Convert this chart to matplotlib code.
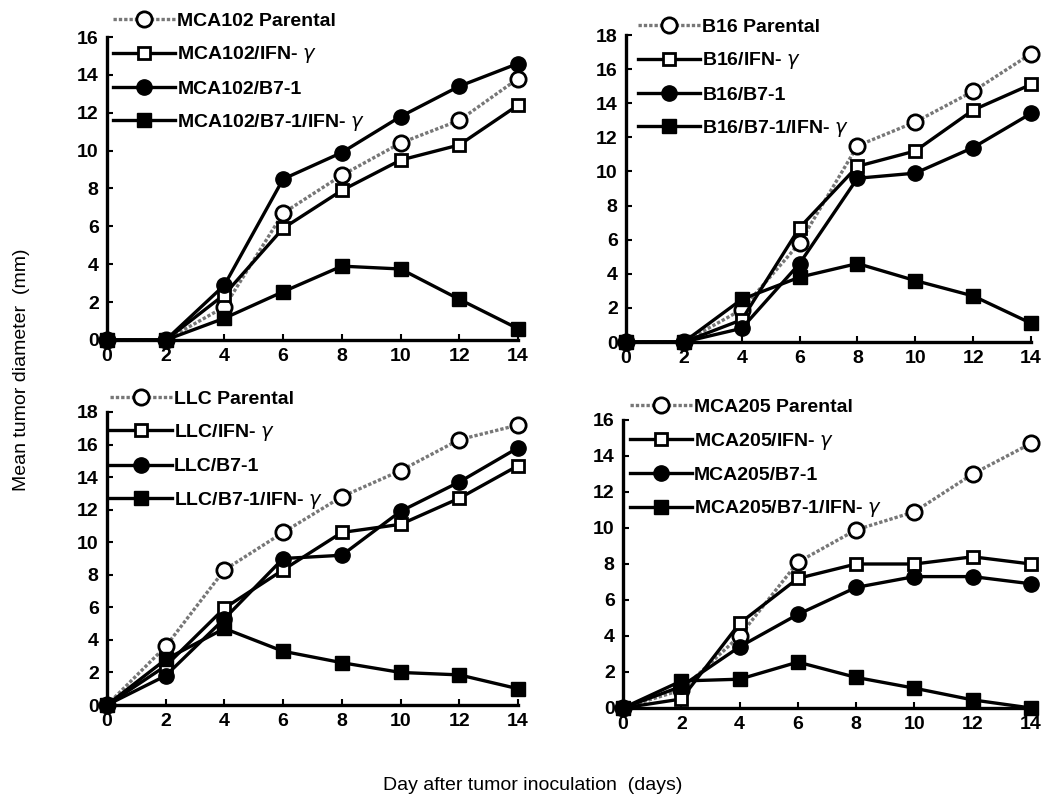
import matplotlib
matplotlib.use('Agg')
import matplotlib.pyplot as plt

plt.rcParams['font.family'] = ['Liberation Sans', 'DejaVu Sans']

days = [0, 2, 4, 6, 8, 10, 12, 14]

# MCA102
mca102_par = [0, 0, 1.75, 6.7, 8.7, 10.4, 11.6, 13.8]
mca102_ifn = [0, 0, 2.4, 5.9, 7.9, 9.5, 10.3, 12.4]
mca102_b7 = [0, 0, 2.9, 8.5, 9.9, 11.8, 13.4, 14.6]
mca102_b7ifn = [0, 0, 1.15, 2.55, 3.9, 3.75, 2.15, 0.6]

# B16
b16_par = [0, 0, 1.9, 5.8, 11.5, 12.9, 14.7, 16.9]
b16_ifn = [0, 0, 1.3, 6.7, 10.3, 11.2, 13.6, 15.1]
b16_b7 = [0, 0, 0.8, 4.6, 9.6, 9.9, 11.4, 13.4]
b16_b7ifn = [0, 0, 2.5, 3.8, 4.6, 3.6, 2.7, 1.1]

# LLC
llc_par = [0, 3.6, 8.3, 10.6, 12.8, 14.4, 16.3, 17.2]
llc_ifn = [0, 2.4, 5.95, 8.3, 10.6, 11.1, 12.7, 14.7]
llc_b7 = [0, 1.8, 5.3, 9.0, 9.2, 11.9, 13.7, 15.8]
llc_b7ifn = [0, 2.8, 4.7, 3.3, 2.6, 2.0, 1.85, 1.0]

# MCA205
mca205_par = [0, 1.0, 4.0, 8.1, 9.9, 10.9, 13.0, 14.7]
mca205_ifn = [0, 0.5, 4.7, 7.2, 8.0, 8.0, 8.4, 8.0]
mca205_b7 = [0, 1.2, 3.4, 5.2, 6.7, 7.3, 7.3, 6.9]
mca205_b7ifn = [0, 1.5, 1.6, 2.55, 1.7, 1.1, 0.45, 0]

panels = [
    ('MCA102', [mca102_par, mca102_ifn, mca102_b7, mca102_b7ifn], 16,
     [107, 518, 37, 340], (0.015, 1.082)),
    ('B16', [b16_par, b16_ifn, b16_b7, b16_b7ifn], 18,
     [626, 1031, 35, 342], (0.03, 1.055)),
    ('LLC', [llc_par, llc_ifn, llc_b7, llc_b7ifn], 18,
     [107, 518, 412, 705], (0.007, 1.075)),
    ('MCA205', [mca205_par, mca205_ifn, mca205_b7, mca205_b7ifn], 16,
     [623, 1031, 420, 708], (0.017, 1.075)),
]

W, H = 1048, 799
fig = plt.figure(figsize=(W / 100, H / 100), dpi=100)

for name, series, ymax, (x0, x1, y0, y1), leg_pos in panels:
    ax = fig.add_axes([x0 / W, 1 - y1 / H, (x1 - x0) / W, (y1 - y0) / H])
    labels = [name + ' Parental', name + '/IFN- $\\gamma$',
              name + '/B7-1', name + '/B7-1/IFN- $\\gamma$']
    ax.plot(days, series[0], color='#777777', ls=(0, (1, 0.6)), lw=2.4,
            marker='o', ms=11, mfc='white', mec='black', mew=2,
            label=labels[0], clip_on=False, zorder=3)
    ax.plot(days, series[1], color='black', lw=2.4,
            marker='s', ms=9, mfc='white', mec='black', mew=2,
            label=labels[1], clip_on=False, zorder=4)
    ax.plot(days, series[2], color='black', lw=2.4,
            marker='o', ms=11, mfc='black', mec='black',
            label=labels[2], clip_on=False, zorder=4)
    ax.plot(days, series[3], color='black', lw=2.4,
            marker='s', ms=9.5, mfc='black', mec='black',
            label=labels[3], clip_on=False, zorder=5)

    ax.set_xlim(0, 14)
    ax.set_ylim(0, ymax)
    ax.set_xticks(days)
    ax.set_yticks(range(0, ymax + 1, 2))
    for s in ['top', 'right']:
        ax.spines[s].set_visible(False)
    for s in ['left', 'bottom']:
        ax.spines[s].set_linewidth(2.4)
    ax.tick_params(direction='in', length=4, width=1.5, labelsize=14, pad=6)
    for t in ax.get_xticklabels() + ax.get_yticklabels():
        t.set_fontweight('bold')

    ax.legend(loc='upper left', bbox_to_anchor=leg_pos, frameon=False,
              prop={'size': 14, 'weight': 'bold'}, handlelength=3.2,
              handletextpad=0.1, labelspacing=0.75, borderpad=0,
              borderaxespad=0)

fig.text(22 / W, 1 - 370 / H, 'Mean tumor diameter  (mm)', rotation=90,
         ha='center', va='center', fontsize=14)
fig.text(533 / W, 1 - 785 / H, 'Day after tumor inoculation  (days)',
         ha='center', va='center', fontsize=14)

fig.savefig('out.png', dpi=100)
